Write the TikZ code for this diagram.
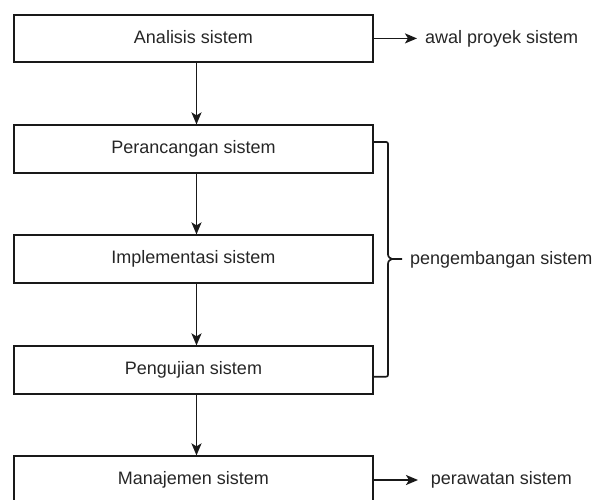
\documentclass[tikz,border=0pt]{standalone}
\usepackage{fontspec}
\setmainfont{Liberation Sans}
\usepackage{tikz}
\usetikzlibrary{arrows.meta}

\begin{document}
\begin{tikzpicture}[x=1pt, y=-1pt,
          % Gaya kotak tahapan
          kotak/.style={
              draw=black!90,
              rectangle,
              minimum width=359.5pt,
              minimum height=47.5pt,
              line width=1.7pt,
              text=black!85,
              text height=13pt,
              text depth=3.5pt,
              font=\fontsize{18}{21}\selectfont,
              align=center
          },
          % Gaya panah dengan ujung tebal
          panah/.style={
              -{Stealth[length=12pt, width=10pt, inset=3pt]},
              line width=1.7pt,
              draw=black!90
          },
          % Gaya teks keterangan di kanan
          keterangan/.style={
              anchor=base west,
              inner sep=0pt,
              text=black!85,
              font=\fontsize{18}{21}\selectfont
          },
          % Gaya kurung kurawal
          kurung/.style={
              line width=1.7pt,
              draw=black!90,
              line join=round
          }
      ]
          \useasboundingbox (0,0) rectangle (595,499);

          % 1. Kotak tahapan
          \node [kotak] (tahap1) at (193.5,38.4) {Analisis sistem};
          \node [kotak] (tahap2) at (193.5,149) {Perancangan sistem};
          \node [kotak] (tahap3) at (193.5,259) {Implementasi sistem};
          \node [kotak] (tahap4) at (193.5,370) {Pengujian sistem};
          \node [kotak] (tahap5) at (193.5,480) {Manajemen sistem};

          % 2. Panah antar tahapan
          \draw [panah] ([xshift=3pt]tahap1.south) -- ([xshift=3pt]tahap2.north);
          \draw [panah] ([xshift=3pt]tahap2.south) -- ([xshift=3pt]tahap3.north);
          \draw [panah] ([xshift=3pt]tahap3.south) -- ([xshift=3pt]tahap4.north);
          \draw [panah] ([xshift=3pt]tahap4.south) -- ([xshift=3pt]tahap5.north);

          % 3. Keterangan awal proyek
          \node [keterangan] (awal) at (425,43.3) {awal proyek sistem};
          \draw [panah, shorten >=8pt] (tahap1.east) -- (tahap1.east -| awal.west);

          % 4. Kurung kurawal untuk pengembangan sistem
          \coordinate (kurungatas) at ([yshift=7pt]tahap2.east);
          \coordinate (kurungbawah) at ([yshift=-6.7pt]tahap4.east);
          \draw [kurung] (kurungatas) -- (384,142) .. controls (388,142) .. (388,146)
              -- (388,251) .. controls (388,257) .. (392,259) -- (402,259)
              (392,259) .. controls (388,261) .. (388,267)
              -- (388,372.5) .. controls (388,376.7) .. (384,376.7) -- (kurungbawah);
          \node [keterangan] (pengembangan) at (410,264.5) {pengembangan sistem};

          % 5. Keterangan perawatan
          \node [keterangan] (perawatan) at (430.7,484.8) {perawatan sistem};
          \draw [panah, shorten >=12.7pt] (tahap5.east) -- (tahap5.east -| perawatan.west);

      \end{tikzpicture}
\end{document}
